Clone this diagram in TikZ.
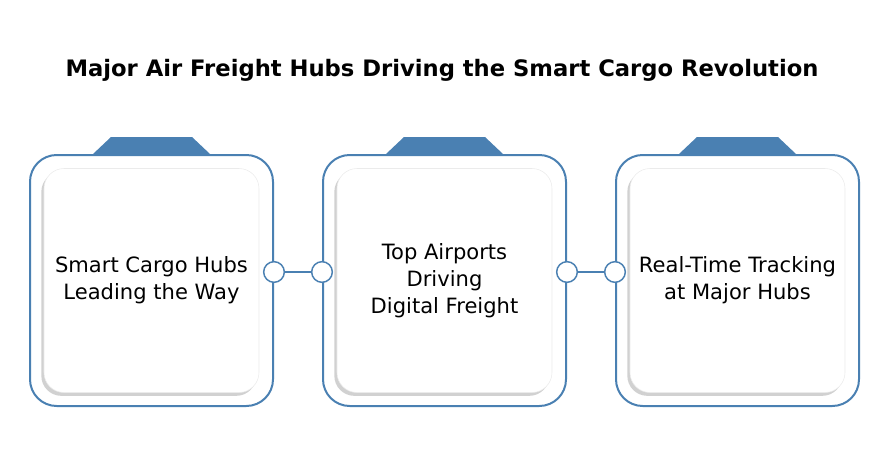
\documentclass[tikz,border=0pt]{standalone}
\usepackage{fontspec}
\setmainfont{DejaVu Sans}
\usetikzlibrary{shadows,calc}
\definecolor{hubblue}{RGB}{74,128,178}

\begin{document}
\begin{tikzpicture}[x=0.75pt,y=-0.75pt,
  frame/.style={draw=hubblue, line width=1.5pt, rounded corners=20pt, minimum width=182.25pt, minimum height=188.25pt},
  card/.style={fill=white, draw=black!8, rounded corners=15pt, minimum width=161.25pt, minimum height=168pt, align=center,
    font=\fontsize{15.8}{20.2}\selectfont,
    drop shadow={shadow xshift=-2pt, shadow yshift=-2.5pt, fill=black!40, opacity=0.45}},
  knob/.style={circle, draw=hubblue, line width=1.1pt, fill=white, inner sep=0pt, minimum size=15.5pt},
  tab/.style={fill=hubblue}]
\useasboundingbox (0,0) rectangle (889,460);

\node[font=\bfseries\fontsize{17}{22}\selectfont] (title) at (442,70) {Major Air Freight Hubs Driving the Smart Cargo Revolution};

\node[frame] (f1) at (151.5,280.5) {};
\node[frame] (f2) at (444.5,280.5) {};
\node[frame] (f3) at (737.5,280.5) {};

\foreach \f in {f1,f2,f3}
  \fill[tab] ($(\f.north)+(-58.5,0)$) -- ++(18,-17) -- ++(81,0) -- ++(18,17) -- cycle;

\node[card] (c1) at (f1) {Smart Cargo Hubs\\Leading the Way};
\node[card] (c2) at (f2) {Top Airports\\Driving\\Digital Freight};
\node[card] (c3) at (f3) {Real-Time Tracking\\at Major Hubs};

\node[knob] (k1) at ($(f1.east)+(0,-8.5)$) {};
\node[knob] (k2) at ($(f2.west)+(0,-8.5)$) {};
\node[knob] (k3) at ($(f2.east)+(0,-8.5)$) {};
\node[knob] (k4) at ($(f3.west)+(0,-8.5)$) {};

\draw[hubblue, line width=1.1pt] (k1) -- (k2);
\draw[hubblue, line width=1.1pt] (k3) -- (k4);

\end{tikzpicture}
\end{document}
